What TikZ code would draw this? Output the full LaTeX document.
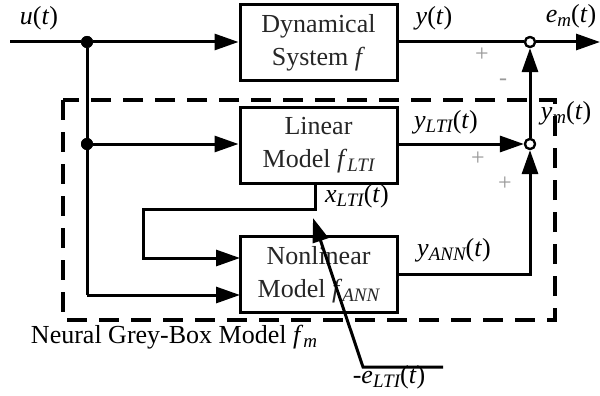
\documentclass[tikz,border=0pt]{standalone}
\usepackage{fontspec}
\setmainfont{Liberation Serif}
\usetikzlibrary{arrows.meta}
\newcommand{\sbs}[1]{\raisebox{-0.35ex}{\fontsize{19}{19}\selectfont\itshape #1}}
\begin{document}
\begin{tikzpicture}[x=1pt,y=-1pt,
  wire/.style={line width=3pt},
  arr/.style={wire,-{Triangle[length=24pt,width=16pt]}},
  blk/.style={draw,line width=3pt,minimum width=157pt,minimum height=76pt,inner sep=0pt,align=center,
     font=\fontsize{26}{33}\selectfont,text=black!85},
  sumnode/.style={circle,draw,fill=white,line width=2.2pt,minimum size=10pt,inner sep=0pt},
  dotnode/.style={circle,fill=black,minimum size=12pt,inner sep=0pt},
  lab/.style={inner sep=0pt,font=\fontsize{26}{30}\selectfont},
  sgn/.style={inner sep=0pt,text=black!40,font=\fontsize{24}{24}\selectfont},
  gbox/.style={line width=3.5pt,dash pattern=on 20pt off 12pt}]
\useasboundingbox (0,0) rectangle (600,396);
\fill[white] (0,0) rectangle (600,396);
% dashed box
\draw[gbox] (63,100) rectangle (555,320);
% blocks
\node[blk] (ds) at (318.5,43) {Dynamical\\System \textit{f}};
\node[blk] (lin) at (318.5,145) {Linear\\Model \textit{f}\sbs{LTI}};
\node[blk] (nl) at (318.5,274.5) {Nonlinear\\Model \textit{f}\sbs{ANN}};
% junctions
\coordinate (in) at (10,42);
\coordinate (out) at (600,42);
\node[dotnode] (j1) at (87,42) {};
\node[dotnode] (j2) at (87,144) {};
\coordinate (jb) at (87,295);
\coordinate (nlin2) at (240,295);
\coordinate (nlin1) at (240,258);
\node[sumnode] (s1) at (530,42) {};
\node[sumnode] (s2) at (530,144) {};
\coordinate (fbx) at (315,209);
\coordinate (fbl) at (143,209);
\coordinate (fbd) at (143,258);
\coordinate (e1) at (443,367);
\coordinate (e2) at (363,367);
\coordinate (e3) at (313,218);
% wires
\draw[wire] (in) -- (j1);
\draw[arr] (j1) -- (ds.west |- j1);
\draw[wire] (ds.east |- s1) -- (s1);
\draw[arr] (s1) -- (out);
\draw[wire] (j1) -- (jb);
\draw[arr] (jb) -- (nlin2);
\draw[arr] (j2) -- (lin.west |- j2);
\draw[arr] (lin.east |- s2) -- (s2);
\draw[arr] (s2) -- (s1);
\draw[arr] (nl.east) -| (s2);
\draw[arr] (lin.south -| fbx) -- (fbx) -- (fbl) -- (fbd) -- (nlin1);
\draw[arr] (e1) -- (e2) -- (e3);
\node[dotnode] at (j1) {};
\node[dotnode] at (j2) {};
\node[sumnode] at (s1) {};
\node[sumnode] at (s2) {};
% labels
\node[lab] (lu) at (39,18) {\textit{u}(\textit{t})};
\node[lab] (ly) at (434,18) {\textit{y}(\textit{t})};
\node[lab] (lem) at (571,16) {\textit{e}\sbs{m}(\textit{t})};
\node[lab] (lym) at (566,113) {\textit{y}\sbs{m}(\textit{t})};
\node[lab] (lylti) at (446,122) {\textit{y}\sbs{LTI}(\textit{t})};
\node[lab] (lxlti) at (357,196) {\textit{x}\sbs{LTI}(\textit{t})};
\node[lab] (lyann) at (454,250) {\textit{y}\sbs{ANN}(\textit{t})};
\node[lab] (lelti) at (389,377) {-\textit{e}\sbs{LTI}(\textit{t})};
\node[lab] (lgb) at (174,337) {Neural Grey-Box Model \textit{f}\sbs{m}};
\node[sgn] (p1) at (482,55) {+};
\node[sgn] (m1) at (503,82) {-};
\node[sgn] (p2) at (478,159) {+};
\node[sgn] (p3) at (505,184) {+};
\end{tikzpicture}
\end{document}
